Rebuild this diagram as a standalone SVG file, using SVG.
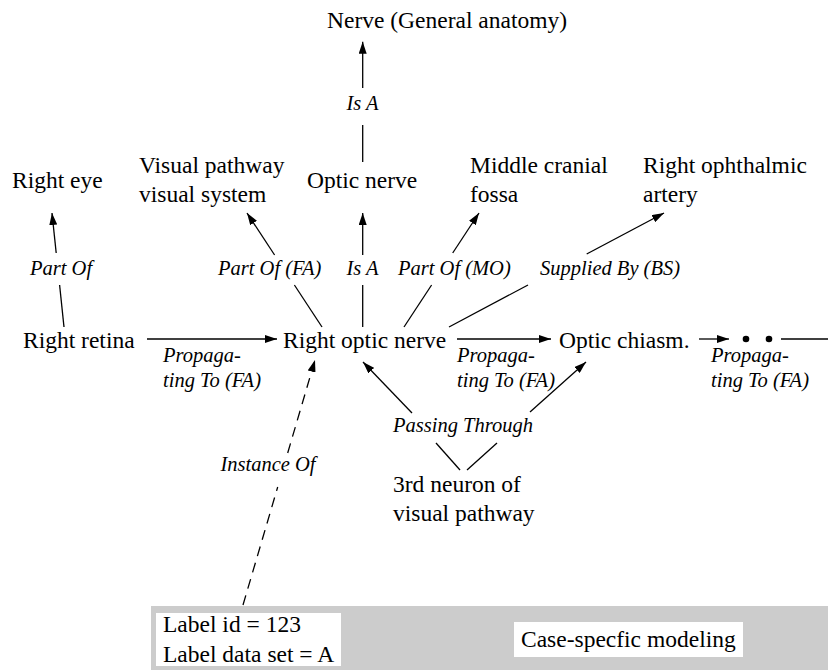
<svg xmlns="http://www.w3.org/2000/svg" width="828" height="670" viewBox="0 0 828 670">
  <style>
    .node { font-family: "Liberation Serif", "Times New Roman", serif; font-size: 23.5px; fill: #000; }
    .rel { font-family: "Liberation Serif", "Times New Roman", serif; font-size: 20.5px; font-style: italic; fill: #000; }
    .edge { stroke: #000; stroke-width: 1.3; fill: none; }
    .arrow { marker-end: url(#head); }
    .dashed { stroke-dasharray: 10 7; }
  </style>
  <defs>
    <marker id="head" viewBox="0 0 12 8" refX="12" refY="4" markerWidth="12" markerHeight="8" markerUnits="userSpaceOnUse" orient="auto">
      <path d="M0,0 L12,4 L0,8 Z" fill="#000"/>
    </marker>
  </defs>
  <rect width="828" height="670" fill="#fff"/>

  <!-- case-specific band -->
  <g id="case-band">
    <rect x="151" y="606" width="677" height="64" fill="#cccccc"/>
    <rect x="156" y="613" width="185" height="53" fill="#fff"/>
    <rect x="514" y="622" width="229" height="35" fill="#fff"/>
    <text class="node" x="521" y="647">Case-specfic modeling</text>
  </g>

  <g id="label-instance">
    <text class="node" x="163" y="632">Label id = 123</text>
    <text class="node" x="163" y="662">Label data set = A</text>
  </g>

  <!-- connectors -->
  <g id="connectors">
    <!-- Is A: optic nerve to nerve -->
    <line class="edge" x1="362.7" y1="162" x2="362.7" y2="125"/>
    <line class="edge arrow" x1="362.7" y1="88" x2="362.7" y2="41.7"/>
    <!-- Part Of: retina to eye -->
    <line class="edge" x1="64" y1="327" x2="59.6" y2="285"/>
    <line class="edge arrow" x1="56.2" y1="253" x2="52" y2="213"/>
    <!-- Part Of (FA) -->
    <line class="edge" x1="322" y1="327" x2="294.4" y2="285"/>
    <line class="edge arrow" x1="274.6" y1="255" x2="247" y2="213"/>
    <!-- Is A -->
    <line class="edge" x1="362.7" y1="327" x2="362.7" y2="285"/>
    <line class="edge arrow" x1="362.7" y1="255" x2="362.7" y2="213"/>
    <!-- Part Of (MO) -->
    <line class="edge" x1="404" y1="327" x2="431.6" y2="285"/>
    <line class="edge arrow" x1="452.7" y1="253" x2="479" y2="213"/>
    <!-- Supplied By (BS) -->
    <line class="edge" x1="449" y1="327" x2="528" y2="285"/>
    <line class="edge arrow" x1="586.7" y1="254" x2="664" y2="213"/>
    <!-- Propagating To (FA) chain -->
    <line class="edge arrow" x1="147" y1="339" x2="277" y2="339"/>
    <line class="edge arrow" x1="457" y1="339" x2="551" y2="339"/>
    <line class="edge arrow" x1="699" y1="339" x2="729" y2="339"/>
    <circle cx="746" cy="339" r="3.3" fill="#000"/>
    <circle cx="769" cy="339" r="3.3" fill="#000"/>
    <line class="edge" x1="781" y1="339" x2="828" y2="339"/>
    <!-- Passing Through -->
    <line class="edge" x1="460" y1="470" x2="436" y2="443"/>
    <line class="edge arrow" x1="412" y1="413" x2="363" y2="362"/>
    <line class="edge" x1="467" y1="470" x2="497" y2="443"/>
    <line class="edge arrow" x1="530" y1="412" x2="586" y2="362"/>
    <!-- Instance Of -->
    <line class="edge dashed" x1="243" y1="605" x2="277.7" y2="487"/>
    <line class="edge dashed arrow" x1="287.7" y1="453" x2="315" y2="360"/>
  </g>

  <!-- relation labels -->
  <g id="relation-labels">
    <text class="rel" x="362.5" y="110" text-anchor="middle">Is A</text>
    <text class="rel" x="30" y="275">Part Of</text>
    <text class="rel" x="218" y="275">Part Of (FA)</text>
    <text class="rel" x="362.5" y="275" text-anchor="middle">Is A</text>
    <text class="rel" x="398" y="275">Part Of (MO)</text>
    <text class="rel" x="540" y="275">Supplied By (BS)</text>
    <text class="rel" x="163" y="362">Propaga-</text>
    <text class="rel" x="163" y="387">ting To (FA)</text>
    <text class="rel" x="457" y="362">Propaga-</text>
    <text class="rel" x="457" y="387">ting To (FA)</text>
    <text class="rel" x="711" y="362">Propaga-</text>
    <text class="rel" x="711" y="387">ting To (FA)</text>
    <text class="rel" x="393" y="432">Passing Through</text>
    <text class="rel" x="268" y="471" text-anchor="middle">Instance Of</text>
  </g>

  <!-- concept nodes -->
  <g id="nerve-general"><text class="node" x="327" y="28">Nerve (General anatomy)</text></g>
  <g id="right-eye"><text class="node" x="12" y="188">Right eye</text></g>
  <g id="visual-pathway">
    <text class="node" x="139" y="173">Visual pathway</text>
    <text class="node" x="139" y="202">visual system</text>
  </g>
  <g id="optic-nerve"><text class="node" x="307" y="188">Optic nerve</text></g>
  <g id="middle-cranial-fossa">
    <text class="node" x="470" y="173">Middle cranial</text>
    <text class="node" x="470" y="202">fossa</text>
  </g>
  <g id="right-ophthalmic-artery">
    <text class="node" x="643" y="173">Right ophthalmic</text>
    <text class="node" x="643" y="202">artery</text>
  </g>
  <g id="right-retina"><text class="node" x="23" y="348">Right retina</text></g>
  <g id="right-optic-nerve"><text class="node" x="283" y="348">Right optic nerve</text></g>
  <g id="optic-chiasm"><text class="node" x="559" y="348">Optic chiasm.</text></g>
  <g id="third-neuron">
    <text class="node" x="393" y="492">3rd neuron of</text>
    <text class="node" x="393" y="521">visual pathway</text>
  </g>
</svg>
